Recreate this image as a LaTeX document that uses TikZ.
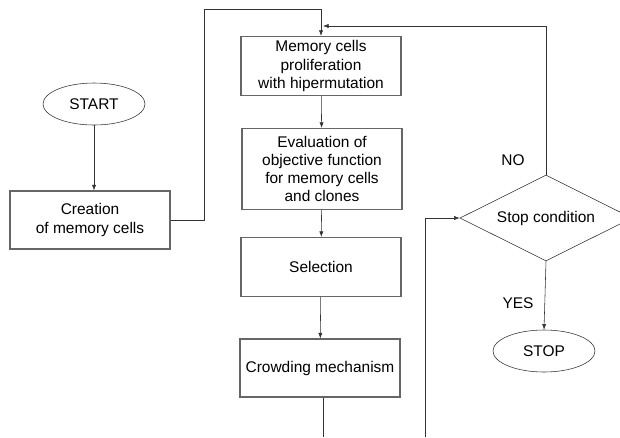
\documentclass[tikz,border=0pt]{standalone}
\usepackage{fontspec}
\setmainfont{Liberation Sans}
\usetikzlibrary{shapes.geometric,arrows.meta}

\begin{document}
\begin{tikzpicture}[x=0.025cm,y=-0.025cm,font=\fontsize{11}{13}\selectfont,
  stepbox/.style={draw=black!60,thick,align=center,minimum width=4cm,inner sep=2pt},
  term/.style={draw=black!80,ellipse,minimum width=2.55cm,minimum height=1.05cm,inner sep=0pt},
  flow/.style={draw=black!80,-{Latex[length=4pt,width=3pt]}},
  wire/.style={draw=black!80}]
\useasboundingbox (0,0) rectangle (620,437);
% terminals
\node[term] (start) at (94,104) {START};
\node[term] (stop) at (544,351) {STOP};
% process boxes
\node[stepbox,minimum height=1.45cm] (creation) at (90,220) {Creation\\of memory cells};
\node[stepbox,minimum height=1.475cm] (memory) at (321,66) {Memory cells\\proliferation\\with hipermutation};
\node[stepbox,minimum height=2.025cm] (evaluation) at (322,169) {Evaluation of\\objective function\\for memory cells\\and clones};
\node[stepbox,minimum height=1.475cm] (selection) at (321,267) {Selection};
\node[stepbox,minimum height=1.45cm] (crowding) at (320,368) {Crowding mechanism};
% decision
\node[diamond,draw=black!80,aspect=2,minimum width=4.3cm,minimum height=2.15cm,inner sep=0pt] (stopcond) at (546,218) {Stop condition};
\node (no) at (513,160) {NO};
\node (yes) at (518,303) {YES};
% free ends
\coordinate (topin) at (321,9);
\coordinate (noin) at (323,26);
\coordinate (crowdout) at (323,437);
\coordinate (loopin) at (425,437);
% connectors
\draw[flow] (start) -- (start |- creation.north);
\draw[flow] (creation.east) -- ++(34,0) |- (topin) -- (memory.north);
\draw[flow] (memory) -- (evaluation);
\draw[flow] (evaluation) -- (selection);
\draw[flow] (selection) -- (crowding);
\draw[wire] (crowding.south -| crowdout) -- (crowdout);
\draw[flow] (loopin) |- (stopcond.west);
\draw[flow] (stopcond.north) |- (noin);
\draw[flow] (stopcond.south) -- (stop.north);
\end{tikzpicture}
\end{document}
